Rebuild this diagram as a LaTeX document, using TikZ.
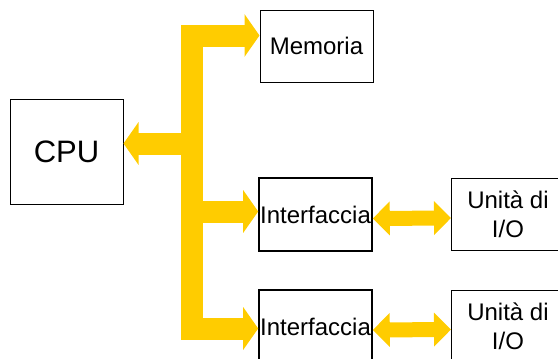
\documentclass[tikz,border=0pt]{standalone}
\usepackage{fontspec}
\setmainfont{Liberation Sans}
\usetikzlibrary{arrows.meta,calc}
\definecolor{busyellow}{HTML}{FFCC00}
\tikzset{
  block/.style={draw, line width=1pt, inner sep=0pt, minimum width=113pt,
    minimum height=72pt, align=center, font=\fontsize{24}{29}\selectfont},
  iface/.style={block, line width=1.6pt, minimum height=73pt},
  bus/.style={busyellow, line width=22pt, line join=miter},
  bustip/.style={-{Triangle[width=42pt,length=15pt]}},
  link/.style={busyellow, line width=15pt,
    {Triangle[width=33pt,length=17pt]}-{Triangle[width=33pt,length=17pt]}}
}

\begin{document}
\begin{tikzpicture}[x=1pt,y=-1pt]
  \useasboundingbox (0,0) rectangle (558,359);
  \clip (0,0) rectangle (558,359);

  % blocks
  \node[block, minimum height=105pt, font=\fontsize{31}{37}\selectfont] (cpu) at (66.5,151.5) {CPU};
  \node[block] (mem) at (316.5,46) {Memoria};
  \node[iface] (if1) at (315.5,214.5) {Interfaccia};
  \node[iface] (if2) at (315.5,326.5) {Interfaccia};
  \node[block] (io1) at (508,214) {Unità di\\I/O};
  \node[block] (io2) at (508,326) {Unità di\\I/O};

  % bus
  \coordinate (bustop) at (191.5,35.5);
  \coordinate (busbot) at (191.5,328.5);
  \draw[bus, {Triangle[width=42pt,length=15pt]}-{Triangle[width=42pt,length=15pt]}]
    ($(mem.west)+(0,-10.5)$) -- (bustop) -- (busbot) -- ($(if2.west)+(0,2)$);
  \draw[bus, bustip] ($(bustop |- cpu.east)+(0,-8)$) -- ($(cpu.east)+(0,-8)$);
  \draw[bus, bustip] ($(bustop |- if1.west)+(0,-3)$) -- ($(if1.west)+(0,-3)$);

  % links to I/O
  \draw[link] ($(if1.east)+(0,4)$) -- ($(io1.west)+(0,4)$);
  \draw[link] ($(if2.east)+(0,3.5)$) -- ($(io2.west)+(0,3.5)$);
\end{tikzpicture}
\end{document}
